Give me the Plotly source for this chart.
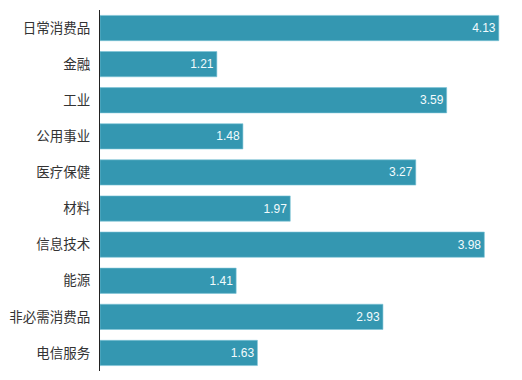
import plotly.graph_objects as go

categories = ["日常消费品", "金融", "工业", "公用事业", "医疗保健", "材料", "信息技术", "能源", "非必需消费品", "电信服务"]
values = [4.13, 1.21, 3.59, 1.48, 3.27, 1.97, 3.98, 1.41, 2.93, 1.63]
labels = ["4.13", "1.21", "3.59", "1.48", "3.27", "1.97", "3.98", "1.41", "2.93", "1.63"]

font = "Noto Sans CJK SC"
fig = go.Figure(go.Bar(
    x=values, y=categories, orientation="h",
    marker=dict(color="#3497b1", line=dict(color="#7cc4d6", width=0.6)),
    text=labels, textposition="inside", insidetextanchor="end",
    textangle=0, cliponaxis=False,
    textfont=dict(family="Liberation Sans", size=12, color="#f2fbfd"),
    width=0.7, hoverinfo="skip",
))
fig.update_layout(
    width=522, height=380, autosize=False,
    margin=dict(l=100, r=0, t=10, b=9),
    paper_bgcolor="white", plot_bgcolor="white",
    showlegend=False,
    xaxis=dict(range=[0, 4.37], visible=False, fixedrange=True),
    yaxis=dict(autorange="reversed", showline=True, linecolor="#222222", linewidth=1,
               ticks="", showgrid=False, ticklabelstandoff=6, fixedrange=True,
               tickfont=dict(family=font, size=13.5, color="#333333")),
)
fig.write_html("out.html", config={"displayModeBar": False},
               post_script="document.body.style.margin='0';document.body.style.overflow='hidden';")
